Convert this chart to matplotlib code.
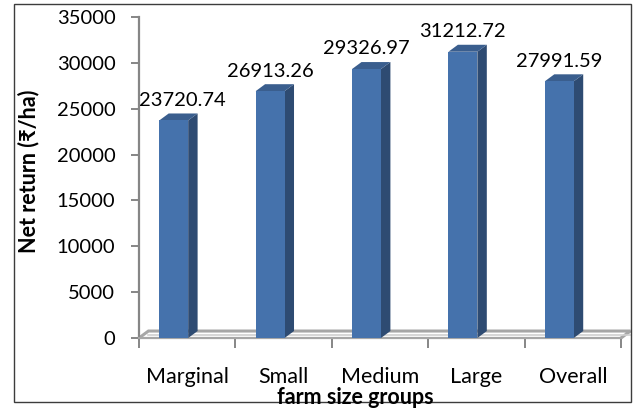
import matplotlib
matplotlib.use("Agg")
import matplotlib.pyplot as plt
from matplotlib.patches import Polygon, Rectangle

categories = ["Marginal", "Small", "Medium", "Large", "Overall"]
net_return = [23720.74, 26913.26, 29326.97, 31212.72, 27991.59]
y_ticks = [0, 5000, 10000, 15000, 20000, 25000, 30000, 35000]

plt.rcParams["font.family"] = ["Lato", "DejaVu Sans"]

W, H = 638, 413
fig = plt.figure(figsize=(W / 100, H / 100), dpi=100)
ax = fig.add_axes([139 / W, 75 / H, 482 / W, 321 / H])
ax.set_xlim(-0.5, len(categories) - 0.5)
ax.set_ylim(0, 35000)

front = "#4572AC"
side = "#2E4B72"
top = "#3A5E8E"
grid_gray = "#A6A6A6"

# 3D depth offsets (in data units)
dx = 0.098
dy = 760.0
bar_w = 0.30
shift = -0.14

# floor: a slanted parallelogram behind the bars
x0, x1 = -0.5, len(categories) - 0.5
ax.plot([x0, x0 + dx, x1 + dx, x1], [0, dy, dy, 0], color=grid_gray,
        lw=2.2, clip_on=False, solid_joinstyle="miter", zorder=1)
ax.plot([x0 + dx, x1 + dx], [dy * 0.45, dy * 0.45], color="#D0D0D0",
        lw=1.2, clip_on=False, zorder=1)

for i, v in enumerate(net_return):
    L = i + shift - bar_w / 2
    R = L + bar_w
    ax.add_patch(Polygon([(R, 0), (R, v), (R + dx, v + dy), (R + dx, dy)],
                         closed=True, facecolor=side, edgecolor="none",
                         clip_on=False, zorder=3))
    ax.add_patch(Polygon([(L, v), (R, v), (R + dx, v + dy), (L + dx, v + dy)],
                         closed=True, facecolor=top, edgecolor="none",
                         clip_on=False, zorder=3))
ax.bar([i + shift for i in range(len(categories))], net_return, width=bar_w,
       color=front, edgecolor="none", zorder=4)

for i, v in enumerate(net_return):
    cx = i + shift
    ha = "center"
    if i == 0:
        cx, ha = -0.5, "left"
    ax.annotate(f"{v:.2f}", (cx, v), xytext=(0, 14.5), textcoords="offset points",
                ha=ha, va="center", fontsize=14.5, color="black", zorder=5)

for s in ["top", "right"]:
    ax.spines[s].set_visible(False)
ax.spines["left"].set_color("#868686")
ax.spines["bottom"].set_color(grid_gray)
ax.spines["bottom"].set_linewidth(1.6)
ax.spines["left"].set_linewidth(1.6)

ax.set_yticks(y_ticks)
ax.set_yticklabels([str(t) for t in y_ticks], fontsize=14.5)
ax.tick_params(axis="y", length=6, width=1.4, color="#868686", pad=11)

ax.set_xticks(range(len(categories)))
ax.set_xticklabels(categories, fontsize=15.5)
ax.set_xticks([k - 0.5 for k in range(len(categories) + 1)], minor=True)
ax.tick_params(axis="x", which="major", length=0, pad=21)
ax.tick_params(axis="x", which="minor", length=7, width=1.4, color="#868686")

fig.text(29 / W, 1 - 171 / H, "Net return (\u20b9/ha)", rotation=90,
         ha="center", va="center", fontsize=15.5, fontweight="bold")
fig.text(355 / W, 1 - 398 / H, "farm size groups", ha="center", va="center",
         fontsize=15.5, fontweight="bold")

fig.patches.append(Rectangle((14 / W, 11 / H), 617 / W, 398 / H,
                             transform=fig.transFigure, fill=False,
                             edgecolor="#3C3C3C", lw=1.0))

fig.savefig("out.png", dpi=100)
